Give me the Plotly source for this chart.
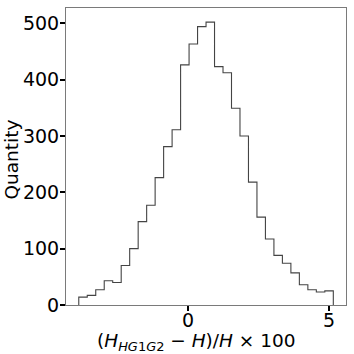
import numpy as np
import plotly.graph_objects as go

# histogram of relative difference, 30 bins
bin_lo = -3.857
bin_hi = 5.17
counts = [14, 17, 27, 43, 40, 70, 100, 148, 177, 226,
          281, 311, 426, 463, 494, 502, 423, 412, 349, 300,
          218, 156, 117, 88, 74, 57, 36, 27, 23, 25]
x_ticks = [0, 5]
y_ticks = [0, 100, 200, 300, 400, 500]

edges = np.linspace(bin_lo, bin_hi, len(counts) + 1)
xs = [edges[0]] + list(edges[:-1]) + [edges[-1]]
ys = [0] + counts + [0]

fig = go.Figure(go.Scatter(
    x=xs, y=ys, mode="lines", line_shape="hv",
    line=dict(color="#444444", width=1.1),
    hoverinfo="skip",
))

axis_common = dict(
    showline=True, mirror=True, linecolor="#7a7a7a", linewidth=1,
    showgrid=False, zeroline=False, automargin=False,
    ticks="outside", ticklen=5, tickwidth=1.6, tickcolor="black",
    tickfont=dict(family="DejaVu Sans", size=19, color="black"),
)

fig.update_layout(
    width=354, height=354,
    margin=dict(l=66, r=8, t=8, b=49),
    plot_bgcolor="white", paper_bgcolor="white",
    showlegend=False,
    xaxis=dict(range=[-4.31, 5.62], tickvals=x_ticks, showticklabels=False,
               **axis_common),
    yaxis=dict(range=[0, 527], tickvals=y_ticks, ticklabelstandoff=-3,
               **axis_common),
)

# x tick labels sit closer to the axis than plotly puts them
for t in x_ticks:
    fig.add_annotation(text=str(t), x=t, xref="x", yref="paper", y=0,
                       yshift=-15, xanchor="center", yanchor="middle",
                       showarrow=False,
                       font=dict(family="DejaVu Sans", size=19, color="black"))

title_font = dict(family="DejaVu Sans", size=18.5, color="black")
fig.add_annotation(
    text="(<i>H</i><sub><i>HG</i>1<i>G</i>2</sub> − <i>H</i>)/<i>H</i> × 100",
    xref="paper", yref="paper", x=0.465, y=0, yshift=-37,
    xanchor="center", yanchor="middle", showarrow=False, font=title_font)
fig.add_annotation(
    text="Quantity", textangle=-90,
    xref="paper", yref="paper", x=0, xshift=-55, y=0.5, yshift=-3,
    xanchor="center", yanchor="middle", showarrow=False, font=title_font)

# drop the browser's default body margin so the figure sits at the corner
fig.write_html("out.html", config={"displayModeBar": False},
               post_script="document.body.style.margin='0';")
